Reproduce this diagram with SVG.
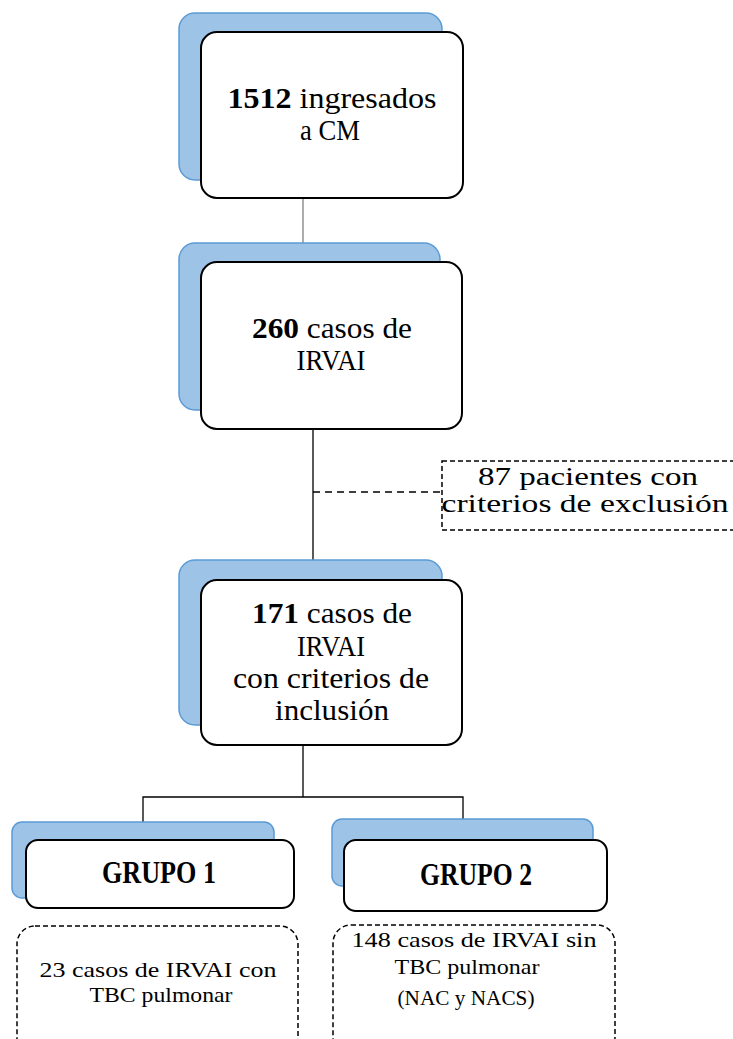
<svg xmlns="http://www.w3.org/2000/svg" width="733" height="1039" viewBox="0 0 733 1039">
<style>
.back{fill:#9dc3e6;stroke:#5b9bd5;stroke-width:1.5}
.front{fill:#ffffff;stroke:#000000;stroke-width:2}
.dash{fill:#ffffff;stroke:#000000;stroke-width:1.5;stroke-dasharray:5 3}
.ln{fill:none;stroke:#000000;stroke-width:1.3}
.t{font-family:"Liberation Serif","Times New Roman",serif;fill:#000000;text-anchor:middle}
.b{font-weight:bold}
</style>
<rect width="733" height="1039" fill="#ffffff"/>
<g id="connectors">
<line class="ln" x1="303" y1="198" x2="303" y2="262" style="stroke:#808080"/>
<line class="ln" x1="313" y1="429" x2="313" y2="580"/>
<line class="ln" x1="313" y1="492" x2="440" y2="492" style="stroke-dasharray:7 5"/>
<polyline class="ln" points="143,822 143,797 463,797 463,819"/>
<line class="ln" x1="303" y1="745" x2="303" y2="797"/>
</g>
<g id="node1">
<rect class="back" x="179" y="13" width="263" height="167" rx="16"/>
<rect class="front" x="201" y="32" width="262" height="166" rx="16"/>
<text class="t" x="332" y="108" font-size="30" textLength="209" lengthAdjust="spacingAndGlyphs"><tspan class="b">1512</tspan> ingresados</text>
<text class="t" x="330" y="140" font-size="30" textLength="60" lengthAdjust="spacingAndGlyphs">a CM</text>
</g>
<g id="node2">
<rect class="back" x="179" y="243" width="261" height="167" rx="16"/>
<rect class="front" x="201" y="262" width="261" height="167" rx="16"/>
<text class="t" x="332" y="338" font-size="30" textLength="160" lengthAdjust="spacingAndGlyphs"><tspan class="b">260</tspan> casos de</text>
<text class="t" x="331" y="370" font-size="30" textLength="69" lengthAdjust="spacingAndGlyphs">IRVAI</text>
</g>
<g id="exclusion">
<rect class="dash" x="442" y="461" width="300" height="69"/>
<text class="t" x="588" y="485" font-size="26" textLength="220" lengthAdjust="spacingAndGlyphs">87 pacientes con</text>
<text class="t" x="585" y="512" font-size="26" textLength="287" lengthAdjust="spacingAndGlyphs">criterios de exclusión</text>
</g>
<g id="node3">
<rect class="back" x="179" y="560" width="263" height="165" rx="16"/>
<rect class="front" x="201" y="580" width="261" height="165" rx="16"/>
<text class="t" x="332" y="623" font-size="30" textLength="160" lengthAdjust="spacingAndGlyphs"><tspan class="b">171</tspan> casos de</text>
<text class="t" x="331" y="656" font-size="30" textLength="68" lengthAdjust="spacingAndGlyphs">IRVAI</text>
<text class="t" x="331" y="688" font-size="30" textLength="196" lengthAdjust="spacingAndGlyphs">con criterios de</text>
<text class="t" x="332" y="720" font-size="30" textLength="114" lengthAdjust="spacingAndGlyphs">inclusión</text>
</g>
<g id="grupo1">
<rect class="back" x="12" y="822" width="262" height="76" rx="10"/>
<rect class="front" x="26" y="840" width="268" height="68" rx="12"/>
<text class="t b" x="159" y="883" font-size="31" textLength="114" lengthAdjust="spacingAndGlyphs">GRUPO 1</text>
</g>
<g id="grupo2">
<rect class="back" x="332" y="819" width="261" height="67" rx="10"/>
<rect class="front" x="344" y="840" width="263" height="71" rx="12"/>
<text class="t b" x="476" y="885" font-size="31" textLength="112" lengthAdjust="spacingAndGlyphs">GRUPO 2</text>
</g>
<g id="detalle1">
<rect class="dash" x="17" y="926" width="281" height="130" rx="18"/>
<text class="t" x="158" y="977" font-size="22" textLength="237" lengthAdjust="spacingAndGlyphs">23 casos de IRVAI con</text>
<text class="t" x="161" y="1002" font-size="22" textLength="143" lengthAdjust="spacingAndGlyphs">TBC pulmonar</text>
</g>
<g id="detalle2">
<rect class="dash" x="333" y="925" width="282" height="130" rx="18"/>
<text class="t" x="474" y="947" font-size="22" textLength="245" lengthAdjust="spacingAndGlyphs">148 casos de IRVAI sin</text>
<text class="t" x="467" y="974" font-size="22" textLength="145" lengthAdjust="spacingAndGlyphs">TBC pulmonar</text>
<text class="t" x="466" y="1005" font-size="22" textLength="137" lengthAdjust="spacingAndGlyphs">(NAC y NACS)</text>
</g>
</svg>
